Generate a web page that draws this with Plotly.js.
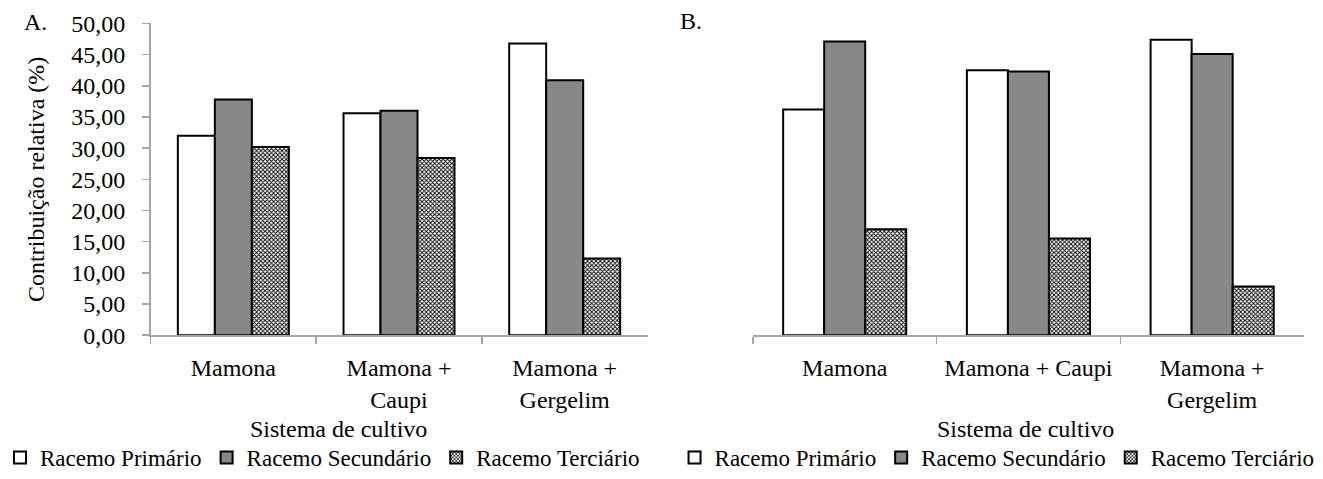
<!DOCTYPE html>
<html>
<head>
<meta charset="utf-8">
<script src="https://cdn.plot.ly/plotly-3.0.1.min.js"></script>
<style>
html,body{margin:0;padding:0;background:#fff;}
#chart{width:1323px;height:479px;}
</style>
</head>
<body>
<div id="chart"></div>
<script>
// Data
var categoriesA = ["Mamona", "Mamona +<br>Caupi", "Mamona +<br>Gergelim"];
var categoriesB = ["Mamona", "Mamona + Caupi", "Mamona +<br>Gergelim"];
var seriesNames = ["Racemo Primário", "Racemo Secundário", "Racemo Terciário"];
var primarioA = [32.0, 35.6, 46.8];
var secundarioA = [37.8, 36.0, 40.9];
var terciarioA = [30.2, 28.4, 12.3];
var primarioB = [36.2, 42.5, 47.4];
var secundarioB = [47.1, 42.3, 45.1];
var terciarioB = [17.0, 15.5, 7.8];
var yTicks = [0, 5, 10, 15, 20, 25, 30, 35, 40, 45, 50];

var FAM = "Liberation Serif";
var FS = 24;
var lineStyle = {color: "#000", width: 2};
var styles = [
  {color: "#ffffff", line: lineStyle},
  {color: "#888888", line: lineStyle},
  {color: "#ffffff", line: lineStyle, pattern: {shape: "x", size: 3, solidity: 0.5, fgcolor: "#000", bgcolor: "#ffffff"}}
];

function mk(x, y, i, xa, ya, leg) {
  return {type: "bar", x: x, y: y, name: seriesNames[i], marker: styles[i],
          xaxis: xa, yaxis: ya, legend: leg, hoverinfo: "y"};
}

var data = [
  mk(categoriesA, primarioA, 0, "x", "y", "legend"),
  mk(categoriesA, secundarioA, 1, "x", "y", "legend"),
  mk(categoriesA, terciarioA, 2, "x", "y", "legend"),
  mk(categoriesB, primarioB, 0, "x2", "y2", "legend2"),
  mk(categoriesB, secundarioB, 1, "x2", "y2", "legend2"),
  mk(categoriesB, terciarioB, 2, "x2", "y2", "legend2")
];

function xAxis(domain, anchor) {
  return {
    domain: domain, anchor: anchor,
    showline: true, linecolor: "#a6a6a6", linewidth: 1.5,
    ticks: "outside", tickson: "boundaries", ticklen: 7, tickcolor: "#a6a6a6", tickwidth: 1.5,
    showgrid: false, zeroline: false, tickfont: {family: FAM, size: FS, color: "#000"},
    ticklabelstandoff: 11, tickangle: 0, fixedrange: true
  };
}

var legendFont = {family: FAM, size: 23, color: "#000"};

var layout = {
  width: 1323, height: 479,
  margin: {l: 0, r: 0, t: 0, b: 0},
  paper_bgcolor: "#fff", plot_bgcolor: "#fff",
  font: {family: FAM, size: FS, color: "#000"},
  separators: ",.",
  barmode: "group", bargap: 0.33, bargroupgap: 0,
  xaxis: xAxis([0.1104, 0.4875], "y"),
  xaxis2: xAxis([0.5674, 0.9856], "y2"),
  yaxis: {
    domain: [0.2839, 0.9499], range: [0, 50], tickvals: yTicks, tickformat: ".2f",
    showline: true, linecolor: "#a6a6a6", linewidth: 1.5,
    ticks: "outside", ticklen: 7, tickcolor: "#a6a6a6", tickwidth: 1.5,
    showgrid: false, zeroline: false, ticklabelstandoff: 12,
    tickfont: {family: FAM, size: FS, color: "#000"},
    title: {text: "Contribuição relativa (%)", font: {family: FAM, size: 24, color: "#000"}, standoff: 20},
    fixedrange: true
  },
  yaxis2: {domain: [0.2839, 0.9499], range: [0, 50], visible: false, anchor: "x2", fixedrange: true},
  legend: {orientation: "h", x: -0.004, y: 0.022, xanchor: "left", yanchor: "middle",
           font: legendFont, bgcolor: "rgba(0,0,0,0)", itemclick: false},
  legend2: {orientation: "h", x: 0.508, y: 0.022, xanchor: "left", yanchor: "middle",
           font: legendFont, bgcolor: "rgba(0,0,0,0)", itemclick: false},
  annotations: [
    {text: "A.", xref: "paper", yref: "paper", x: 0.013, y: 0.953, xanchor: "left", yanchor: "middle", showarrow: false, font: {family: FAM, size: FS, color: "#000"}},
    {text: "B.", xref: "paper", yref: "paper", x: 0.511, y: 0.955, xanchor: "left", yanchor: "middle", showarrow: false, font: {family: FAM, size: FS, color: "#000"}},
    {text: "Sistema de cultivo", xref: "paper", yref: "paper", x: 335/1323, y: (479-439)/479, xanchor: "center", yanchor: "middle", showarrow: false, font: {family: FAM, size: FS, color: "#000"}},
    {text: "Sistema de cultivo", xref: "paper", yref: "paper", x: 1024/1323, y: (479-439)/479, xanchor: "center", yanchor: "middle", showarrow: false, font: {family: FAM, size: FS, color: "#000"}}
  ],
  showlegend: true
};

Plotly.newPlot("chart", data, layout, {displayModeBar: false, staticPlot: true});
</script>
</body>
</html>
